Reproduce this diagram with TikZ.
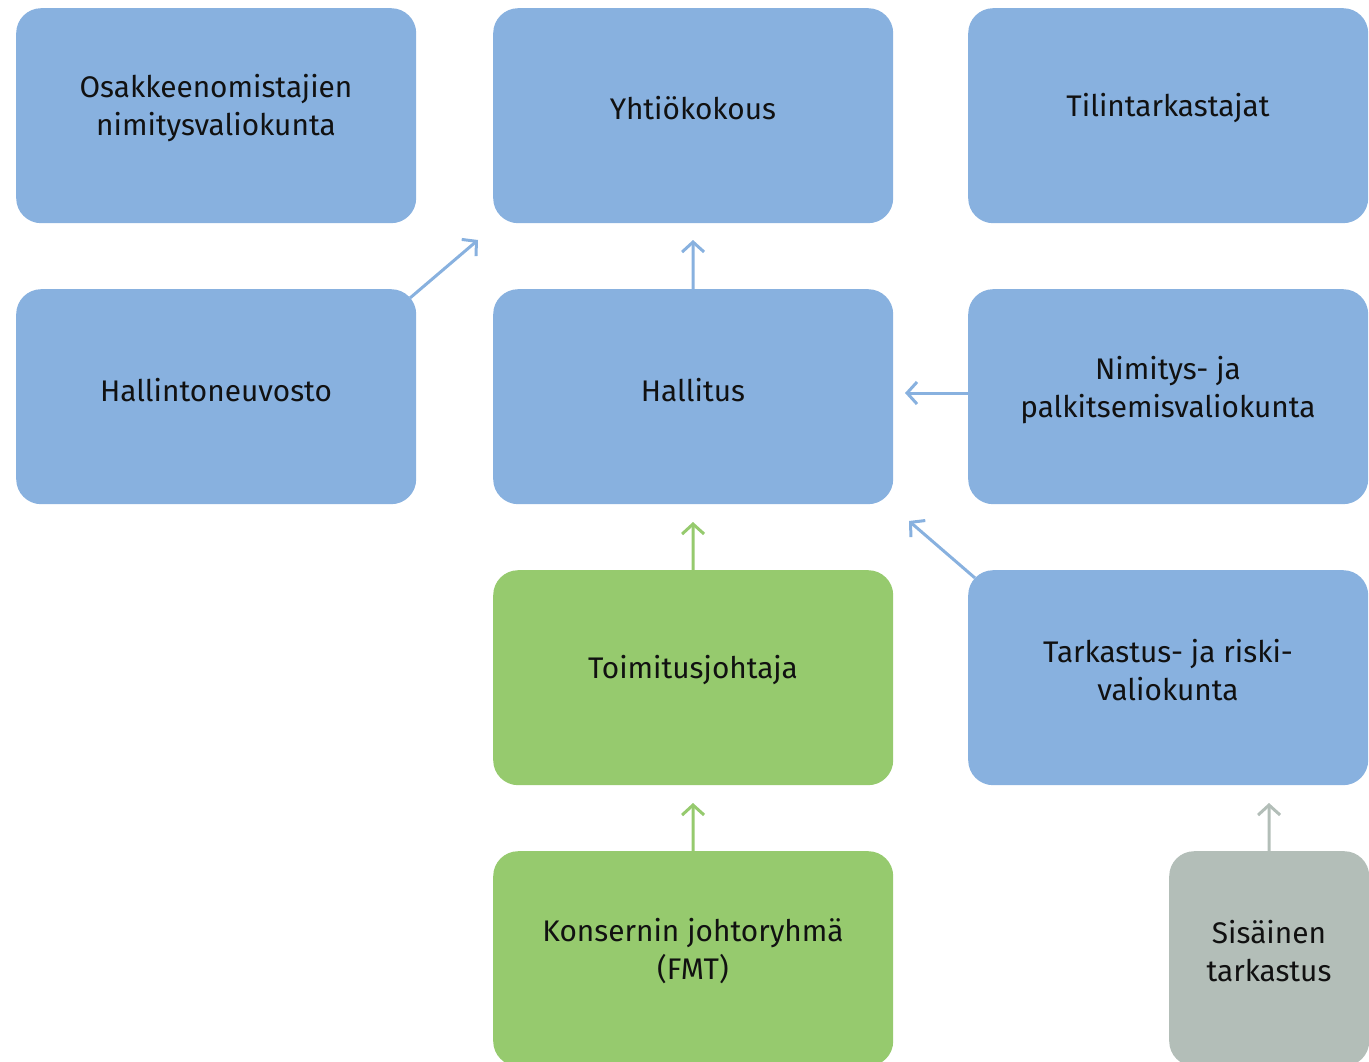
\documentclass[tikz,border=0pt]{standalone}
\usepackage{fontspec}
\setmainfont{Fira Sans}
\usetikzlibrary{arrows.meta}
\definecolor{bxblue}{HTML}{88B1DF}
\definecolor{bxgreen}{HTML}{96CA6E}
\definecolor{bxgray}{HTML}{B3BEB8}
\definecolor{txtc}{HTML}{111111}
\tikzset{
  box/.style={rounded corners=25pt, minimum width=400pt, minimum height=215pt, inner sep=0pt, anchor=north west},
  bluebox/.style={box, fill=bxblue},
  greenbox/.style={box, fill=bxgreen},
  graybox/.style={box, fill=bxgray, minimum width=200pt},
  txt/.style={align=center, text=txtc, font=\fontsize{29.8pt}{38pt}\selectfont, inner sep=0pt},
  conn/.style={line width=3pt, -{Straight Barb[length=10pt, width=22pt, line width=3pt]}},
}
\begin{document}
\begin{tikzpicture}[x=1pt, y=-1pt]
\clip (0,0) rectangle (1369,1062);
% boxes
\node[bluebox] (osak) at (16,8) {};
\node[bluebox] (yk) at (493,8) {};
\node[bluebox] (tilin) at (968,8) {};
\node[bluebox] (hn) at (16,289) {};
\node[bluebox] (hall) at (493,289) {};
\node[bluebox] (nim) at (968,289) {};
\node[greenbox] (tj) at (493,570) {};
\node[bluebox] (tark) at (968,570) {};
\node[greenbox] (fmt) at (493,851) {};
\node[graybox] (sis) at (1169,851) {};
% texts
\node[txt] (osak-t) at (216,108) {Osakkeenomistajien\\nimitysvaliokunta};
\node[txt] (yk-t) at (693,108) {Yhtiökokous};
\node[txt] (tilin-t) at (1168,108) {Tilintarkastajat};
\node[txt] (hn-t) at (216,390) {Hallintoneuvosto};
\node[txt] (hall-t) at (693,390) {Hallitus};
\node[txt] (nim-t) at (1168,390) {Nimitys- ja\\palkitsemisvaliokunta};
\node[txt] (tj-t) at (693,670) {Toimitusjohtaja};
\node[txt] (tark-t) at (1168,670) {Tarkastus- ja riski-\\valiokunta};
\node[txt] (fmt-t) at (693,951) {Konsernin johtoryhmä\\(FMT)};
\node[txt] (sis-t) at (1269,951) {Sisäinen\\tarkastus};
% connector ends
\coordinate (hn-s) at (410,298);
\coordinate (hn-e) at (478,240);
\coordinate (hall-e) at (693,240);
\coordinate (nim-e) at (905,393);
\coordinate (tark-s) at (975,578);
\coordinate (tark-e) at (909,521);
\coordinate (tj-e) at (693,522);
\coordinate (fmt-e) at (693,803);
\coordinate (sis-e) at (1269,803);
% connectors
\draw[conn, bxblue] (hn-s) -- (hn-e);
\draw[conn, bxblue] (hall.north) -- (hall-e);
\draw[conn, bxblue] (nim.west |- nim-e) -- (nim-e);
\draw[conn, bxblue] (tark-s) -- (tark-e);
\draw[conn, bxgreen] (tj.north) -- (tj-e);
\draw[conn, bxgreen] (fmt.north) -- (fmt-e);
\draw[conn, bxgray] (sis.north) -- (sis-e);
\end{tikzpicture}
\end{document}
